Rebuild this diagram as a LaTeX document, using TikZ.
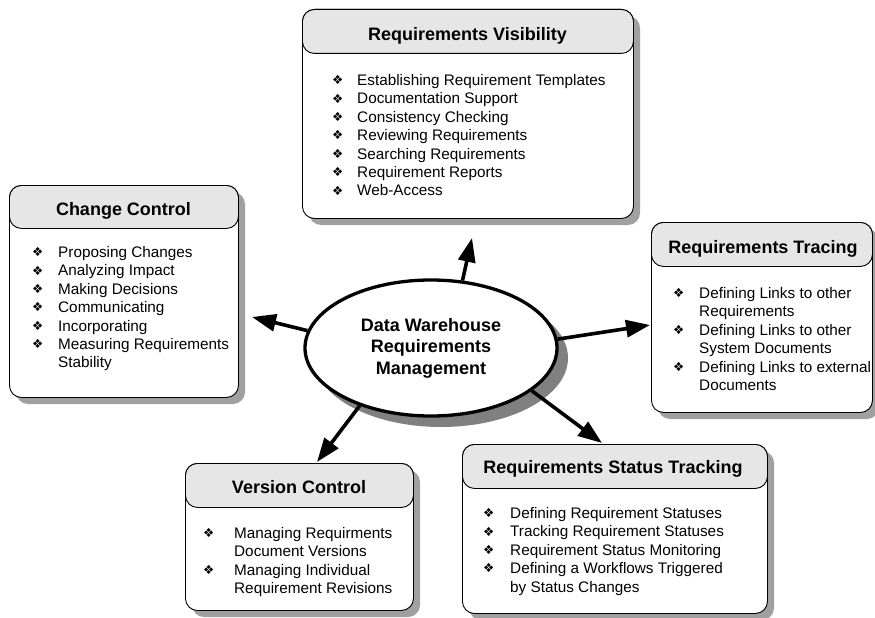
\documentclass[tikz,border=0pt]{standalone}
\usepackage{fontspec}
\setmainfont{Liberation Sans}
\newfontfamily\dejavu{DejaVu Sans}
\usetikzlibrary{arrows.meta,calc,shapes.geometric}
\definecolor{headgray}{RGB}{230,230,230}
\definecolor{shadowgray}{RGB}{160,160,160}
\definecolor{ellshadow}{RGB}{128,128,128}
\newcommand{\bul}{\raisebox{0.8pt}{\dejavu\fontsize{12.5}{12.5}\selectfont ❖}}
\newcommand{\itemfont}{\fontsize{15.3}{18.4}\selectfont}
\tikzset{
  bodybox/.style={draw=black, line width=0.9pt, rounded corners=12pt, fill=white, inner sep=0pt},
  headbox/.style={draw=black, line width=0.9pt, rounded corners=12pt, fill=headgray, inner sep=0pt},
  shadowfill/.style={fill=shadowgray, rounded corners=12pt},
  titletext/.style={font=\bfseries\fontsize{18}{21}\selectfont, anchor=base, inner sep=0pt},
  itemlist/.style={anchor=base west, inner sep=0pt, font=\itemfont},
  arr/.style={line width=3.6pt, -{Triangle[length=24pt,width=17pt]}},
}
% #1 name, #2 x1, #3 y1, #4 x2, #5 y2, #6 header bottom
\newcommand{\mkbox}[6]{%
  \fill[shadowfill] (#2+7,#3+7) rectangle (#4+7,#5+7);
  \node[bodybox, anchor=north west, minimum width={(#4-#2)*1pt}, minimum height={(#5-#3)*1pt}] (#1) at (#2,#3) {};
  \node[headbox, anchor=north west, minimum width={(#4-#2)*1pt}, minimum height={(#6-#3)*1pt}] (#1h) at (#2,#3) {};
}
\begin{document}
\begin{tikzpicture}[x=1pt,y=-1pt]
\useasboundingbox (0,0) rectangle (875,618);

% Requirements Visibility
\mkbox{vis}{302}{9}{633}{218}{53}
\node[titletext] (visT) at (467.5,40.5) {Requirements Visibility};
\node[itemlist] (visI) at (332,85.5) {\begin{tabular}[t]{@{}p{25pt}@{}l@{}}
\bul & Establishing Requirement Templates\\
\bul & Documentation Support\\
\bul & Consistency Checking\\
\bul & Reviewing Requirements\\
\bul & Searching Requirements\\
\bul & Requirement Reports\\
\bul & Web-Access
\end{tabular}};

% Change Control
\mkbox{chg}{9}{185}{238}{397}{228}
\node[titletext] (chgT) at (123.5,215.5) {Change Control};
\node[itemlist] (chgI) at (32,257.5) {\begin{tabular}[t]{@{}p{26pt}@{}l@{}}
\bul & Proposing Changes\\
\bul & Analyzing Impact\\
\bul & Making Decisions\\
\bul & Communicating\\
\bul & Incorporating\\
\bul & Measuring Requirements\\
 & Stability
\end{tabular}};

% Requirements Tracing
\mkbox{trc}{651}{222}{872}{412}{266}
\node[titletext] (trcT) at (763,253.5) {Requirements Tracing};
\node[itemlist] (trcI) at (673,298.5) {\begin{tabular}[t]{@{}p{26pt}@{}l@{}}
\bul & Defining Links to other\\
 & Requirements\\
\bul & Defining Links to other\\
 & System Documents\\
\bul & Defining Links to external\\
 & Documents
\end{tabular}};

% Version Control
\mkbox{ver}{185}{463}{413}{610}{507}
\node[titletext] (verT) at (299,493.5) {Version Control};
\node[itemlist] (verI) at (203,538.5) {\begin{tabular}[t]{@{}p{31pt}@{}l@{}}
\bul & Managing Requirments\\
 & Document Versions\\
\bul & Managing Individual\\
 & Requirement Revisions
\end{tabular}};

% Requirements Status Tracking
\mkbox{sta}{462}{444}{767}{613}{488}
\node[titletext] (staT) at (613,473.5) {Requirements Status Tracking};
\node[itemlist] (staI) at (483,518.5) {\begin{tabular}[t]{@{}p{27pt}@{}l@{}}
\bul & Defining Requirement Statuses\\
\bul & Tracking Requirement Statuses\\
\bul & Requirement Status Monitoring\\
\bul & Defining a Workflows Triggered\\
 & by Status Changes
\end{tabular}};

% central ellipse
\fill[ellshadow] (441,358) ellipse [x radius=127, y radius=69];
\node[ellipse, draw=black, line width=3.3pt, fill=white, minimum width=252pt, minimum height=136pt,
      inner sep=0pt, align=center, font=\bfseries\fontsize{18}{21.5}\selectfont] (ell) at (431,348)
      {Data Warehouse\\Requirements\\Management};

% arrows
\coordinate (tVis) at (472,238);
\coordinate (tChg) at (252,317);
\coordinate (tTrc) at (650,325);
\coordinate (tVer) at (317,462);
\coordinate (tSta) at (602,443);
\draw[arr] (ell.65) -- (tVis);
\draw[arr] (ell.172) -- (tChg);
\draw[arr] (ell.4) -- (tTrc);
\draw[arr] (ell.219.5) -- (tVer);
\draw[arr] (ell.337.5) -- (tSta);
\end{tikzpicture}
\end{document}
